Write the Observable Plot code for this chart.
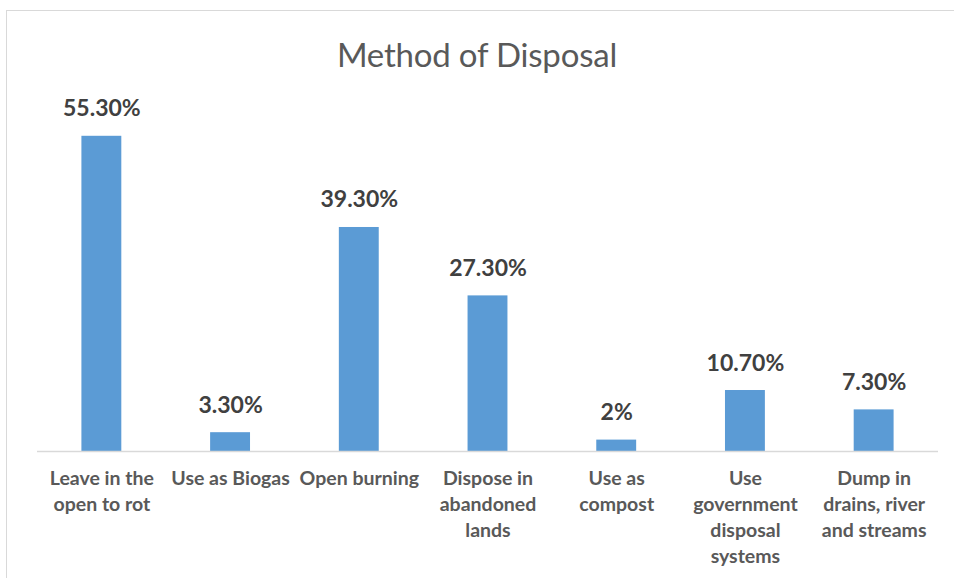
<!DOCTYPE html>
<html>
<head>
<meta charset="utf-8">
<script src="https://cdn.jsdelivr.net/npm/d3@7"></script>
<script src="https://cdn.jsdelivr.net/npm/@observablehq/plot@0.6"></script>
<style>
  html, body { margin: 0; padding: 0; background: #fff; }
  #wrap { position: relative; width: 954px; height: 578px; overflow: hidden; background: #fff; font-family: Lato, "Open Sans", sans-serif; }
  #frame { position: absolute; left: 6px; top: 10px; right: -2px; bottom: -2px; border-left: 1.5px solid #d9d9d9; border-top: 1.5px solid #d9d9d9; }
  #titlebox { position: relative; height: 80px; }
  #title { position: absolute; left: 0; right: 0; top: 38px; text-align: center; font-size: 33px; line-height: 1; color: #595959; font-weight: 400; letter-spacing: -0.2px; }
  #chart { position: relative; }
</style>
</head>
<body>
<div id="wrap">
  <div id="frame"></div>
  <div id="titlebox"><div id="title">Method of Disposal</div></div>
  <div id="chart"></div>
</div>
<script>
const categories = [
  "Leave in the open to rot",
  "Use as Biogas",
  "Open burning",
  "Dispose in abandoned lands",
  "Use as compost",
  "Use government disposal systems",
  "Dump in drains, river and streams"
];
const tickLabels = [
  "Leave in the\nopen to rot",
  "Use as Biogas",
  "Open burning",
  "Dispose in\nabandoned\nlands",
  "Use as\ncompost",
  "Use\ngovernment\ndisposal\nsystems",
  "Dump in\ndrains, river\nand streams"
];
const values = [55.3, 3.3, 39.3, 27.3, 2, 10.7, 7.3];
const valueLabels = ["55.30%", "3.30%", "39.30%", "27.30%", "2%", "10.70%", "7.30%"];

const data = categories.map((c, i) => ({cat: c, tick: tickLabels[i], value: values[i], label: valueLabels[i]}));

const chart = Plot.plot({
  width: 954,
  height: 498,
  marginLeft: 37,
  marginRight: 16,
  marginTop: 29,
  marginBottom: 127,
  style: {fontFamily: "Lato, 'Open Sans', sans-serif", background: "transparent", overflow: "visible"},
  x: {domain: categories, paddingInner: 0.69, paddingOuter: 0.345, round: false, axis: null},
  y: {domain: [0, 60], axis: null},
  marks: [
    Plot.barY(data, {x: "cat", y: "value", fill: "#5b9bd5"}),
    Plot.ruleY([0], {stroke: "#d9d9d9", strokeWidth: 1.5}),
    Plot.text(data, {x: "cat", y: "value", text: "label", dy: -20, lineAnchor: "bottom", fontSize: 23, fontWeight: "bold", fill: "#404040"}),
    Plot.text(data, {x: "cat", text: "tick", frameAnchor: "bottom", lineAnchor: "top", dy: 15, fontSize: 19.5, fontWeight: "bold", fill: "#595959", lineHeight: 1.34})
  ]
});
document.getElementById("chart").appendChild(chart);
</script>
</body>
</html>
